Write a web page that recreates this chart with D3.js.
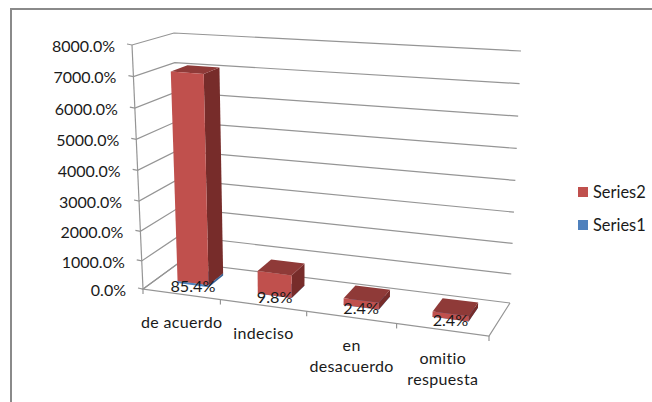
<!DOCTYPE html>
<html>
<head>
<meta charset="utf-8">
<script src="https://cdn.jsdelivr.net/npm/d3@7"></script>
<style>
    html, body { margin: 0; padding: 0; background: #fff; }
    svg { display: block; }
    text { font-family: Lato, "Open Sans", sans-serif; fill: #1a1a1a; }
</style>
</head>
<body>
<div id="chart"></div>
<script>
const categories = ['de acuerdo', 'indeciso', 'en\ndesacuerdo', 'omitio\nrespuesta'];
const series1 = [85.4, 9.8, 2.4, 2.4];
const series2 = [7000, 800, 250, 190];
const valueTicks = [0, 1000, 2000, 3000, 4000, 5000, 6000, 7000, 8000];
const legendNames = ['Series2', 'Series1'];

const width = 652;
const height = 402;
const gridColor = '#959595';

// Corners of the 3D box as they land on the screen
const floor = { fl: [143, 289], fr: [489, 336], bl: [180, 262], br: [510, 303] };
const roof = { fl: [132, 45], fr: [505, 78], bl: [174, 33], br: [521, 51] };

// Perspective squeezes both directions a little
const uScale = d3.scalePow().exponent(1.08).domain([0, 1]).range([0, 1]);
const vScale = d3.scalePow().exponent(1.04).domain([0, 8000]).range([0, 1]);

const band = d3.scaleBand()
    .domain(categories)
    .range([0.006, 1])
    .paddingInner(0.6)
    .paddingOuter(0.3);

const depthFront = 0.33;
const depthBack = 0.75;

function project(u, d, value) {
    const uu = uScale(u);
    const v = vScale(value);
    const plane = (c, i) => {
        const front = c.fl[i] + (c.fr[i] - c.fl[i]) * uu;
        const back = c.bl[i] + (c.br[i] - c.bl[i]) * uu;
        return front + (back - front) * d;
    };
    return [0, 1].map(i => plane(floor, i) + (plane(roof, i) - plane(floor, i)) * v);
}

const svg = d3.select('#chart')
    .append('svg')
    .attr('width', width)
    .attr('height', height);

// Outer frame
svg.append('path')
    .attr('d', `M11,${height} V9 H${width}`)
    .attr('fill', 'none')
    .attr('stroke', '#8a8a8a')
    .attr('stroke-width', 2);

const line = d3.line();
const grid = svg.append('g')
    .attr('fill', 'none')
    .attr('stroke', gridColor)
    .attr('stroke-width', 1.2);

// Gridlines run along the left wall and the back wall
valueTicks.forEach(v => {
    const a = project(0, 0, v);
    grid.append('path').attr('d', line([
        [a[0] - 5, a[1] - 1],
        a,
        project(0, 1, v),
        project(1, 1, v)
    ]));
});

// Value axis and floor edges
grid.append('path').attr('d', line([project(0, 0, 0), project(0, 0, 8000)]));
grid.append('path').attr('d', line([project(0, 1, 0), project(0, 0, 0), project(1, 0, 0), project(1, 1, 0)]));

// Category ticks
[0, 1, 2, 3, 4].forEach(i => {
    const p = project(i / 4, 0, 0);
    grid.append('path').attr('d', line([p, [p[0], p[1] + 5]]));
});

// Value labels
svg.append('g')
    .selectAll('text')
    .data(valueTicks)
    .enter()
    .append('text')
    .attr('x', d => project(0, 0, d)[0] - 17)
    .attr('y', d => project(0, 0, d)[1] + 1)
    .attr('dy', '0.35em')
    .attr('text-anchor', 'end')
    .attr('font-size', 16)
    .text(d => d3.format('.1f')(d) + '%');

// One box between two values, only the three visible faces
function drawBox(g, name, v0, v1, colors) {
    const u0 = band(name);
    const u1 = u0 + band.bandwidth();
    const face = (pts, color) => g.append('path')
        .attr('d', line(pts) + 'Z')
        .attr('fill', color);

    face([
        project(u1, depthFront, v0), project(u1, depthBack, v0),
        project(u1, depthBack, v1), project(u1, depthFront, v1)
    ], colors.side);
    face([
        project(u0, depthFront, v1), project(u1, depthFront, v1),
        project(u1, depthBack, v1), project(u0, depthBack, v1)
    ], colors.top);
    face([
        project(u0, depthFront, v0), project(u1, depthFront, v0),
        project(u1, depthFront, v1), project(u0, depthFront, v1)
    ], colors.front);
}

const blue = { front: '#4f81bd', side: '#3a6496', top: '#44709f' };
const red = { front: '#c0504d', side: '#772c2a', top: '#8f3a38' };

const bars = svg.append('g');
categories.forEach((name, i) => {
    const g = bars.append('g');
    drawBox(g, name, 0, series1[i], blue);
    drawBox(g, name, series1[i], series1[i] + series2[i], red);
});

// Data labels sit on the base of each bar
svg.append('g')
    .selectAll('text')
    .data(categories)
    .enter()
    .append('text')
    .attr('x', d => project(band(d) + band.bandwidth() / 2, depthFront, 0)[0])
    .attr('y', d => project(band(d) + band.bandwidth() / 2, depthFront, 0)[1] + 1.5)
    .attr('dy', '0.35em')
    .attr('text-anchor', 'middle')
    .attr('font-size', 16.2)
    .text((d, i) => series1[i].toFixed(1) + '%');

// Category labels
categories.forEach((name, i) => {
    const a = project(i / 4, 0, 0);
    const b = project((i + 1) / 4, 0, 0);
    const text = svg.append('text')
        .attr('text-anchor', 'middle')
        .attr('font-size', 16)
        .attr('letter-spacing', 0.35);
    name.split('\n').forEach((part, k) => {
        text.append('tspan')
            .attr('x', (a[0] + b[0]) / 2)
            .attr('y', (a[1] + b[1]) / 2 + 34 + k * 21)
            .text(part);
    });
});

// Legend
const legend = svg.append('g')
    .selectAll('g')
    .data(legendNames)
    .enter()
    .append('g')
    .attr('transform', (d, i) => `translate(578,${192 + i * 33})`);

legend.append('rect')
    .attr('y', -5)
    .attr('width', 10)
    .attr('height', 10)
    .attr('fill', (d, i) => [red.front, blue.front][i]);

legend.append('text')
    .attr('x', 15)
    .attr('dy', '0.35em')
    .attr('font-size', 16.4)
    .text(d => d);
</script>
</body>
</html>
